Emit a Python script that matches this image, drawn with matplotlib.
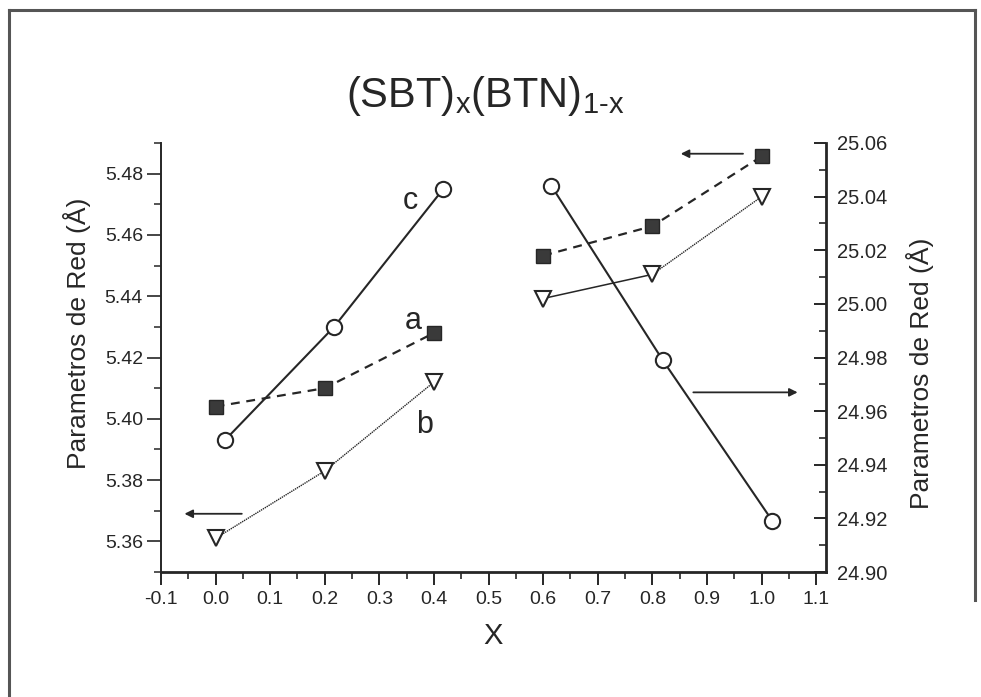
import matplotlib
matplotlib.use("Agg")
import matplotlib.pyplot as plt
from matplotlib.lines import Line2D
from matplotlib.ticker import MultipleLocator, FormatStrFormatter

plt.rcParams['font.family'] = ['Liberation Sans', 'DejaVu Sans']
plt.rcParams['mathtext.fontset'] = 'custom'
plt.rcParams['mathtext.rm'] = 'Liberation Sans'
plt.rcParams['mathtext.it'] = 'Liberation Sans'

INK = '#262626'

# Lattice parameters, SBT-rich side (left axis) -- x slightly offset for series c
x_a_left = [0.0, 0.2, 0.4]
a_left = [5.404, 5.410, 5.428]
x_b_left = [0.0, 0.2, 0.4]
b_left = [5.361, 5.383, 5.412]
x_c_left = [0.017, 0.217, 0.417]
c_left = [5.393, 5.430, 5.475]

# Lattice parameters, BTN-rich side (right axis)
x_a_right = [0.6, 0.8, 1.0]
a_right = [25.018, 25.029, 25.055]
x_b_right = [0.6, 0.8, 1.0]
b_right = [25.002, 25.011, 25.040]
x_c_right = [0.615, 0.819, 1.020]
c_right = [25.044, 24.979, 24.919]

x_ticks = [-0.1, 0.0, 0.1, 0.2, 0.3, 0.4, 0.5, 0.6, 0.7, 0.8, 0.9, 1.0, 1.1]
left_ticks = [5.36, 5.38, 5.40, 5.42, 5.44, 5.46, 5.48]
right_ticks = [24.90, 24.92, 24.94, 24.96, 24.98, 25.00, 25.02, 25.04, 25.06]

W, H = 981, 697
fig = plt.figure(figsize=(W / 100, H / 100), dpi=100)
fig.patch.set_facecolor('white')

ax = fig.add_axes([161 / W, 1 - 572 / H, 665 / W, 429 / H])
ax2 = ax.twinx()

# page frame
for xs, ys in [([9, 9], [10, 697]), ([9, 975], [10, 10]), ([975, 975], [10, 600])]:
    fig.add_artist(Line2D([x / W for x in xs], [1 - y / H for y in ys],
                          transform=fig.transFigure, color='#555555', lw=2.2))

ax.set_xlim(-0.1, 1.118)
ax.set_ylim(5.35, 5.49)
ax2.set_ylim(24.90, 25.06)

for s in ['top', 'right']:
    ax.spines[s].set_visible(False)
for s in ['top', 'left', 'bottom']:
    ax2.spines[s].set_visible(False)
ax.spines['left'].set_linewidth(1.4)
ax.spines['bottom'].set_linewidth(2.0)
ax2.spines['right'].set_linewidth(2.0)
for sp in list(ax.spines.values()) + list(ax2.spines.values()):
    sp.set_color(INK)

ax.set_xticks(x_ticks)
ax.xaxis.set_minor_locator(MultipleLocator(0.05))
ax.xaxis.set_major_formatter(FormatStrFormatter('%.1f'))
ax.set_yticks(left_ticks)
ax.yaxis.set_minor_locator(MultipleLocator(0.01))
ax.yaxis.set_major_formatter(FormatStrFormatter('%.2f'))
ax2.set_yticks(right_ticks)
ax2.yaxis.set_minor_locator(MultipleLocator(0.01))
ax2.yaxis.set_major_formatter(FormatStrFormatter('%.2f'))

ax.tick_params(axis='x', which='major', direction='out', length=9, width=1.4,
               pad=5, labelsize=14, color=INK, labelcolor=INK)
ax.tick_params(axis='x', which='minor', direction='out', length=5, width=1.2, color=INK)
ax.tick_params(axis='y', which='major', direction='out', length=10, width=1.2,
               pad=3, labelsize=14, color=INK, labelcolor=INK)
ax.tick_params(axis='y', which='minor', direction='out', length=5, width=1.1, color=INK)
ax2.tick_params(axis='y', which='major', direction='in', length=9, width=1.4,
                pad=8, labelsize=14.5, color=INK, labelcolor=INK)
ax2.tick_params(axis='y', which='minor', direction='in', length=5, width=1.2, color=INK)

# series a: filled squares, dashed
ax.plot(x_a_left, a_left, ls=(0, (4, 3)), lw=1.6, color=INK, marker='s', ms=9.5,
        mfc='#3a3a3a', mec=INK, mew=1.0)
ax2.plot(x_a_right, a_right, ls=(0, (4, 3)), lw=1.6, color=INK, marker='s', ms=9.5,
         mfc='#3a3a3a', mec=INK, mew=1.0)

# series b: open down-triangles, fine dotted
ax.plot(x_b_left, b_left, ls=(0, (1, 0.6)), lw=1.0, color=INK, marker='v', ms=12,
        mfc='white', mec=INK, mew=1.5)
ax2.plot(x_b_right[:2], b_right[:2], ls='-', lw=1.1, color=INK)
ax2.plot(x_b_right[1:], b_right[1:], ls=(0, (1, 0.6)), lw=1.0, color=INK)
ax2.plot(x_b_right, b_right, ls='none', marker='v', ms=12,
         mfc='white', mec=INK, mew=1.5)

# series c: open circles, solid
ax.plot(x_c_left, c_left, ls='-', lw=1.5, color=INK, marker='o', ms=11,
        mfc='white', mec=INK, mew=1.5)
ax2.plot(x_c_right, c_right, ls='-', lw=1.5, color=INK, marker='o', ms=11,
         mfc='white', mec=INK, mew=1.5)

# series letters
ax.text(0.356, 5.471, 'c', fontsize=22, color=INK, ha='center', va='center')
ax.text(0.362, 5.432, 'a', fontsize=22, color=INK, ha='center', va='center')
ax.text(0.383, 5.398, 'b', fontsize=22, color=INK, ha='center', va='center')

# arrows pointing to the axis each group belongs to
arrow = dict(arrowstyle='-|>', color=INK, lw=1.3, mutation_scale=12, shrinkA=0, shrinkB=0)
ax.annotate('', xy=(-0.057, 5.369), xytext=(0.048, 5.369), arrowprops=arrow)
ax2.annotate('', xy=(0.852, 25.056), xytext=(0.966, 25.056), arrowprops=arrow)
ax2.annotate('', xy=(1.066, 24.967), xytext=(0.875, 24.967), arrowprops=arrow)

fig.text(77 / W, 1 - 333 / H, 'Parametros de Red (Å)', rotation=90, fontsize=19,
         color=INK, ha='center', va='center')
fig.text(920 / W, 1 - 373 / H, 'Parametros de Red (Å)', rotation=90, fontsize=19,
         color=INK, ha='center', va='center')
fig.text(493 / W, 1 - 636 / H, 'X', fontsize=21, color=INK, ha='center', va='center')
fig.text(485 / W, 1 - 107 / H,
         r'(SBT)$_\mathregular{x}$(BTN)$_\mathregular{1\text{-}x}$',
         fontsize=30, color=INK, ha='center', va='baseline')

fig.savefig('out.png', dpi=100, facecolor='white')
